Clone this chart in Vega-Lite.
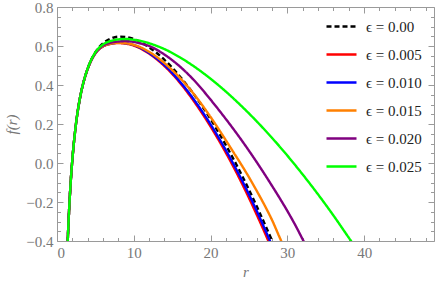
{
  "$schema": "https://vega.github.io/schema/vega-lite/v6.json",
  "width": 377,
  "height": 234,
  "autosize": {"type": "none"},
  "padding": {"left": 57, "top": 7, "right": 2, "bottom": 45},
  "background": "white",
  "config": {
    "font": "Liberation Serif",
    "view": {"stroke": "#9a9a9a", "strokeWidth": 1}
  },
  "datasets": {
    "curves": [
      {"s":"ϵ = 0.00","r":1.35,"f":-0.447},{"s":"ϵ = 0.00","r":1.4,"f":-0.396},{"s":"ϵ = 0.00","r":1.5,"f":-0.304},{"s":"ϵ = 0.00","r":1.6,"f":-0.223},{"s":"ϵ = 0.00","r":1.8,"f":-0.088},{"s":"ϵ = 0.00","r":2,"f":0.018},{"s":"ϵ = 0.00","r":2.25,"f":0.124},{"s":"ϵ = 0.00","r":2.5,"f":0.209},{"s":"ϵ = 0.00","r":3,"f":0.335},{"s":"ϵ = 0.00","r":3.5,"f":0.422},{"s":"ϵ = 0.00","r":4,"f":0.485},{"s":"ϵ = 0.00","r":4.5,"f":0.533},{"s":"ϵ = 0.00","r":5,"f":0.568},{"s":"ϵ = 0.00","r":6,"f":0.614},{"s":"ϵ = 0.00","r":7,"f":0.638},{"s":"ϵ = 0.00","r":8,"f":0.648},{"s":"ϵ = 0.00","r":9,"f":0.646},{"s":"ϵ = 0.00","r":10,"f":0.636},{"s":"ϵ = 0.00","r":12,"f":0.593},{"s":"ϵ = 0.00","r":14,"f":0.529},{"s":"ϵ = 0.00","r":16,"f":0.444},{"s":"ϵ = 0.00","r":18,"f":0.343},{"s":"ϵ = 0.00","r":20,"f":0.225},{"s":"ϵ = 0.00","r":22,"f":0.091},{"s":"ϵ = 0.00","r":24,"f":-0.057},{"s":"ϵ = 0.00","r":26,"f":-0.221},{"s":"ϵ = 0.00","r":28,"f":-0.398},{"s":"ϵ = 0.00","r":29,"f":-0.492},

      {"s":"ϵ = 0.005","r":1.35,"f":-0.447},{"s":"ϵ = 0.005","r":1.4,"f":-0.396},{"s":"ϵ = 0.005","r":1.5,"f":-0.304},{"s":"ϵ = 0.005","r":1.6,"f":-0.223},{"s":"ϵ = 0.005","r":1.8,"f":-0.088},{"s":"ϵ = 0.005","r":2,"f":0.018},{"s":"ϵ = 0.005","r":2.25,"f":0.124},{"s":"ϵ = 0.005","r":2.5,"f":0.209},{"s":"ϵ = 0.005","r":3,"f":0.335},{"s":"ϵ = 0.005","r":3.5,"f":0.421},{"s":"ϵ = 0.005","r":4,"f":0.483},{"s":"ϵ = 0.005","r":4.5,"f":0.529},{"s":"ϵ = 0.005","r":5,"f":0.562},{"s":"ϵ = 0.005","r":6,"f":0.598},{"s":"ϵ = 0.005","r":7,"f":0.611},{"s":"ϵ = 0.005","r":8,"f":0.615},{"s":"ϵ = 0.005","r":9,"f":0.612},{"s":"ϵ = 0.005","r":10,"f":0.602},{"s":"ϵ = 0.005","r":12,"f":0.561},{"s":"ϵ = 0.005","r":14,"f":0.497},{"s":"ϵ = 0.005","r":16,"f":0.412},{"s":"ϵ = 0.005","r":18,"f":0.307},{"s":"ϵ = 0.005","r":20,"f":0.187},{"s":"ϵ = 0.005","r":22,"f":0.052},{"s":"ϵ = 0.005","r":24,"f":-0.098},{"s":"ϵ = 0.005","r":26,"f":-0.264},{"s":"ϵ = 0.005","r":27,"f":-0.352},{"s":"ϵ = 0.005","r":28,"f":-0.444},

      {"s":"ϵ = 0.010","r":1.35,"f":-0.447},{"s":"ϵ = 0.010","r":1.4,"f":-0.396},{"s":"ϵ = 0.010","r":1.5,"f":-0.304},{"s":"ϵ = 0.010","r":1.6,"f":-0.223},{"s":"ϵ = 0.010","r":1.8,"f":-0.088},{"s":"ϵ = 0.010","r":2,"f":0.018},{"s":"ϵ = 0.010","r":2.25,"f":0.124},{"s":"ϵ = 0.010","r":2.5,"f":0.209},{"s":"ϵ = 0.010","r":3,"f":0.335},{"s":"ϵ = 0.010","r":3.5,"f":0.421},{"s":"ϵ = 0.010","r":4,"f":0.483},{"s":"ϵ = 0.010","r":4.5,"f":0.530},{"s":"ϵ = 0.010","r":5,"f":0.563},{"s":"ϵ = 0.010","r":6,"f":0.599},{"s":"ϵ = 0.010","r":7,"f":0.612},{"s":"ϵ = 0.010","r":8,"f":0.617},{"s":"ϵ = 0.010","r":9,"f":0.614},{"s":"ϵ = 0.010","r":10,"f":0.605},{"s":"ϵ = 0.010","r":12,"f":0.564},{"s":"ϵ = 0.010","r":14,"f":0.502},{"s":"ϵ = 0.010","r":16,"f":0.418},{"s":"ϵ = 0.010","r":18,"f":0.316},{"s":"ϵ = 0.010","r":20,"f":0.198},{"s":"ϵ = 0.010","r":22,"f":0.065},{"s":"ϵ = 0.010","r":24,"f":-0.082},{"s":"ϵ = 0.010","r":26,"f":-0.245},{"s":"ϵ = 0.010","r":27,"f":-0.333},{"s":"ϵ = 0.010","r":28,"f":-0.424},

      {"s":"ϵ = 0.015","r":1.35,"f":-0.447},{"s":"ϵ = 0.015","r":1.4,"f":-0.396},{"s":"ϵ = 0.015","r":1.5,"f":-0.304},{"s":"ϵ = 0.015","r":1.6,"f":-0.223},{"s":"ϵ = 0.015","r":1.8,"f":-0.088},{"s":"ϵ = 0.015","r":2,"f":0.018},{"s":"ϵ = 0.015","r":2.25,"f":0.124},{"s":"ϵ = 0.015","r":2.5,"f":0.209},{"s":"ϵ = 0.015","r":3,"f":0.335},{"s":"ϵ = 0.015","r":3.5,"f":0.421},{"s":"ϵ = 0.015","r":4,"f":0.483},{"s":"ϵ = 0.015","r":4.5,"f":0.530},{"s":"ϵ = 0.015","r":5,"f":0.564},{"s":"ϵ = 0.015","r":6,"f":0.599},{"s":"ϵ = 0.015","r":7,"f":0.612},{"s":"ϵ = 0.015","r":8,"f":0.616},{"s":"ϵ = 0.015","r":9,"f":0.614},{"s":"ϵ = 0.015","r":10,"f":0.606},{"s":"ϵ = 0.015","r":12,"f":0.570},{"s":"ϵ = 0.015","r":14,"f":0.512},{"s":"ϵ = 0.015","r":16,"f":0.437},{"s":"ϵ = 0.015","r":18,"f":0.345},{"s":"ϵ = 0.015","r":19,"f":0.292},{"s":"ϵ = 0.015","r":20,"f":0.236},{"s":"ϵ = 0.015","r":21,"f":0.177},{"s":"ϵ = 0.015","r":22,"f":0.116},{"s":"ϵ = 0.015","r":23,"f":0.054},{"s":"ϵ = 0.015","r":24,"f":-0.008},{"s":"ϵ = 0.015","r":25,"f":-0.073},{"s":"ϵ = 0.015","r":26,"f":-0.142},{"s":"ϵ = 0.015","r":27,"f":-0.214},{"s":"ϵ = 0.015","r":28,"f":-0.292},{"s":"ϵ = 0.015","r":29,"f":-0.382},{"s":"ϵ = 0.015","r":30,"f":-0.47},

      {"s":"ϵ = 0.020","r":1.35,"f":-0.447},{"s":"ϵ = 0.020","r":1.4,"f":-0.396},{"s":"ϵ = 0.020","r":1.5,"f":-0.304},{"s":"ϵ = 0.020","r":1.6,"f":-0.223},{"s":"ϵ = 0.020","r":1.8,"f":-0.088},{"s":"ϵ = 0.020","r":2,"f":0.018},{"s":"ϵ = 0.020","r":2.25,"f":0.124},{"s":"ϵ = 0.020","r":2.5,"f":0.209},{"s":"ϵ = 0.020","r":3,"f":0.335},{"s":"ϵ = 0.020","r":3.5,"f":0.421},{"s":"ϵ = 0.020","r":4,"f":0.484},{"s":"ϵ = 0.020","r":4.5,"f":0.531},{"s":"ϵ = 0.020","r":5,"f":0.565},{"s":"ϵ = 0.020","r":6,"f":0.602},{"s":"ϵ = 0.020","r":7,"f":0.617},{"s":"ϵ = 0.020","r":8,"f":0.623},{"s":"ϵ = 0.020","r":9,"f":0.625},{"s":"ϵ = 0.020","r":10,"f":0.621},{"s":"ϵ = 0.020","r":11,"f":0.612},{"s":"ϵ = 0.020","r":12,"f":0.600},{"s":"ϵ = 0.020","r":14,"f":0.556},{"s":"ϵ = 0.020","r":16,"f":0.495},{"s":"ϵ = 0.020","r":18,"f":0.418},{"s":"ϵ = 0.020","r":20,"f":0.325},{"s":"ϵ = 0.020","r":22,"f":0.225},{"s":"ϵ = 0.020","r":23,"f":0.173},{"s":"ϵ = 0.020","r":24,"f":0.119},{"s":"ϵ = 0.020","r":25,"f":0.063},{"s":"ϵ = 0.020","r":26,"f":0.005},{"s":"ϵ = 0.020","r":27,"f":-0.055},{"s":"ϵ = 0.020","r":28,"f":-0.117},{"s":"ϵ = 0.020","r":29,"f":-0.18},{"s":"ϵ = 0.020","r":30,"f":-0.246},{"s":"ϵ = 0.020","r":31,"f":-0.316},{"s":"ϵ = 0.020","r":32,"f":-0.392},{"s":"ϵ = 0.020","r":33,"f":-0.47},

      {"s":"ϵ = 0.025","r":1.35,"f":-0.447},{"s":"ϵ = 0.025","r":1.4,"f":-0.396},{"s":"ϵ = 0.025","r":1.5,"f":-0.304},{"s":"ϵ = 0.025","r":1.6,"f":-0.223},{"s":"ϵ = 0.025","r":1.8,"f":-0.088},{"s":"ϵ = 0.025","r":2,"f":0.018},{"s":"ϵ = 0.025","r":2.25,"f":0.124},{"s":"ϵ = 0.025","r":2.5,"f":0.209},{"s":"ϵ = 0.025","r":3,"f":0.335},{"s":"ϵ = 0.025","r":3.5,"f":0.422},{"s":"ϵ = 0.025","r":4,"f":0.485},{"s":"ϵ = 0.025","r":4.5,"f":0.533},{"s":"ϵ = 0.025","r":5,"f":0.568},{"s":"ϵ = 0.025","r":6,"f":0.608},{"s":"ϵ = 0.025","r":7,"f":0.626},{"s":"ϵ = 0.025","r":8,"f":0.634},{"s":"ϵ = 0.025","r":9,"f":0.636},{"s":"ϵ = 0.025","r":10,"f":0.632},{"s":"ϵ = 0.025","r":11,"f":0.625},{"s":"ϵ = 0.025","r":12,"f":0.614},{"s":"ϵ = 0.025","r":14,"f":0.584},{"s":"ϵ = 0.025","r":16,"f":0.542},{"s":"ϵ = 0.025","r":18,"f":0.491},{"s":"ϵ = 0.025","r":20,"f":0.432},{"s":"ϵ = 0.025","r":22,"f":0.366},{"s":"ϵ = 0.025","r":24,"f":0.293},{"s":"ϵ = 0.025","r":26,"f":0.214},{"s":"ϵ = 0.025","r":28,"f":0.129},{"s":"ϵ = 0.025","r":30,"f":0.038},{"s":"ϵ = 0.025","r":32,"f":-0.059},{"s":"ϵ = 0.025","r":34,"f":-0.161},{"s":"ϵ = 0.025","r":36,"f":-0.269},{"s":"ϵ = 0.025","r":38,"f":-0.383},{"s":"ϵ = 0.025","r":39,"f":-0.44}
    ]
  },
  "data": {"name": "curves"},
  "resolve": {"axis": {"x": "independent", "y": "independent"}},
  "layer": [
    {
      "mark": {"type": "line", "clip": true, "strokeWidth": 2.4, "interpolate": "monotone"},
      "encoding": {
        "x": {
          "field": "r", "type": "quantitative",
          "scale": {"domain": [0, 49.1], "nice": false, "zero": false},
          "axis": {
            "orient": "bottom", "values": [0, 10, 20, 30, 40], "format": "d",
            "grid": false, "domain": false,
            "tickSize": -6, "tickColor": "#9a9a9a", "tickWidth": 1,
            "labelPadding": 10, "labelFont": "Liberation Serif", "labelFontSize": 15, "labelColor": "#777777",
            "title": "r", "titleFont": "Liberation Serif", "titleFontStyle": "italic", "titleFontWeight": "normal",
            "titleFontSize": 15, "titleColor": "#777777", "titlePadding": 4
          }
        },
        "y": {
          "field": "f", "type": "quantitative",
          "scale": {"domain": [-0.4, 0.8], "nice": false, "zero": false},
          "axis": {
            "orient": "left", "values": [-0.4, -0.2, 0, 0.2, 0.4, 0.6, 0.8], "format": ".1f",
            "grid": false, "domain": false,
            "tickSize": -6, "tickColor": "#9a9a9a", "tickWidth": 1,
            "labelPadding": 10, "labelFont": "Liberation Serif", "labelFontSize": 15, "labelColor": "#777777",
            "title": "f(r)", "titleFont": "Liberation Serif", "titleFontStyle": "italic", "titleFontWeight": "normal",
            "titleFontSize": 15, "titleColor": "#777777", "titlePadding": 6
          }
        },
        "color": {
          "field": "s", "type": "nominal",
          "scale": {
            "domain": ["ϵ = 0.00", "ϵ = 0.005", "ϵ = 0.010", "ϵ = 0.015", "ϵ = 0.020", "ϵ = 0.025"],
            "range": ["#000000", "#ff0000", "#0000ff", "#ff8000", "#800080", "#00ff00"]
          },
          "legend": {
            "title": null, "orient": "none", "legendX": 268, "legendY": 3,
            "symbolType": "stroke", "symbolSize": 900, "symbolStrokeWidth": 2.4,
            "labelFont": "Liberation Serif", "labelFontSize": 15, "labelColor": "#222222",
            "labelOffset": 8, "rowPadding": 3, "padding": 0
          }
        },
        "strokeDash": {
          "field": "s", "type": "nominal",
          "scale": {
            "domain": ["ϵ = 0.00", "ϵ = 0.005", "ϵ = 0.010", "ϵ = 0.015", "ϵ = 0.020", "ϵ = 0.025"],
            "range": [[5, 3], [1, 0], [1, 0], [1, 0], [1, 0], [1, 0]]
          },
          "legend": null
        },
        "order": {"field": "r", "type": "quantitative"}
      }
    },
    {
      "mark": {"type": "point", "opacity": 0},
      "encoding": {
        "x": {"field": "r", "type": "quantitative",
          "axis": {"orient": "bottom", "values": [2,4,6,8,12,14,16,18,22,24,26,28,32,34,36,38,42,44,46,48], "labels": false, "domain": false, "grid": false, "tickSize": -3.5, "tickColor": "#9a9a9a", "title": null}},
        "y": {"field": "f", "type": "quantitative",
          "axis": {"orient": "left", "values": [-0.35,-0.3,-0.25,-0.15,-0.1,-0.05,0.05,0.1,0.15,0.25,0.3,0.35,0.45,0.5,0.55,0.65,0.7,0.75], "labels": false, "domain": false, "grid": false, "tickSize": -3.5, "tickColor": "#9a9a9a", "title": null}}
      }
    },
    {
      "mark": {"type": "point", "opacity": 0},
      "encoding": {
        "x": {"field": "r", "type": "quantitative",
          "axis": {"orient": "top", "values": [0, 10, 20, 30, 40], "labels": false, "domain": false, "grid": false, "tickSize": -6, "tickColor": "#9a9a9a", "title": null}},
        "y": {"field": "f", "type": "quantitative",
          "axis": {"orient": "right", "values": [-0.4, -0.2, 0, 0.2, 0.4, 0.6, 0.8], "labels": false, "domain": false, "grid": false, "tickSize": -6, "tickColor": "#9a9a9a", "title": null}}
      }
    },
    {
      "mark": {"type": "point", "opacity": 0},
      "encoding": {
        "x": {"field": "r", "type": "quantitative",
          "axis": {"orient": "top", "values": [2,4,6,8,12,14,16,18,22,24,26,28,32,34,36,38,42,44,46,48], "labels": false, "domain": false, "grid": false, "tickSize": -3.5, "tickColor": "#9a9a9a", "title": null}},
        "y": {"field": "f", "type": "quantitative",
          "axis": {"orient": "right", "values": [-0.35,-0.3,-0.25,-0.15,-0.1,-0.05,0.05,0.1,0.15,0.25,0.3,0.35,0.45,0.5,0.55,0.65,0.7,0.75], "labels": false, "domain": false, "grid": false, "tickSize": -3.5, "tickColor": "#9a9a9a", "title": null}}
      }
    }
  ]
}
